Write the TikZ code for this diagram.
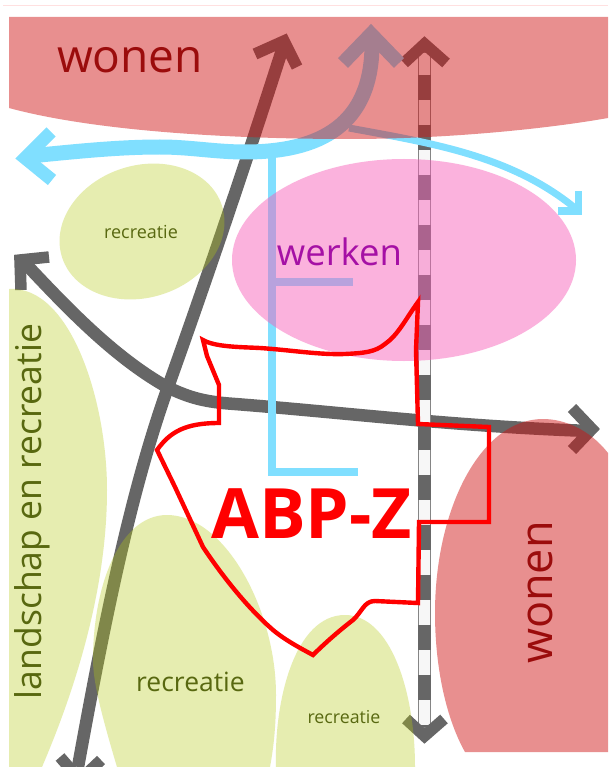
\documentclass[tikz,border=0pt]{standalone}
\usepackage{fontspec}
\setmainfont{Open Sans}
\definecolor{road}{RGB}{102,102,102}
\definecolor{cyanline}{RGB}{128,223,255}
\definecolor{wonenfill}{RGB}{208,17,17}
\definecolor{greenfill}{RGB}{180,201,18}
\definecolor{pinkfill}{RGB}{247,96,186}
\definecolor{wonentext}{RGB}{155,12,12}
\definecolor{greentext}{RGB}{88,104,16}
\definecolor{werkentext}{RGB}{165,16,165}
\tikzset{
 roadline/.style={draw=road,line width=12.5pt},
 chev/.style={draw=road,line width=11.5pt,miter limit=10},
 cyanthick/.style={draw=cyanline,line width=15pt},
 cyanthin/.style={draw=cyanline,line width=7pt},
 cyanl/.style={draw=cyanline,line width=8pt},
 wonenarea/.style={fill=wonenfill,fill opacity=.47},
 greenarea/.style={fill=greenfill,fill opacity=.333},
 pinkarea/.style={fill=pinkfill,fill opacity=.477},
 label/.style={inner sep=0pt,outer sep=0pt},
 redline/.style={draw=red,line width=4.4pt,line join=miter}
}
\begin{document}
\begin{tikzpicture}[x=1pt,y=-1pt]
\useasboundingbox (0,0) rectangle (608,767);
\clip (0,0) rectangle (608,767);
\fill[white] (0,0) rectangle (608,767);
\draw[red!12,line width=1pt] (3,6) -- (608,6);
% lines under the translucent areas
\draw[roadline] (284,44) .. controls (250,150) and (210,270) .. (168,387) .. controls (135,480) and (110,590) .. (78,767);
\draw[chev] (255,54) -- (284,41) -- (297,67);
\draw[chev] (60,757) -- (80,780) -- (101,760);
\draw[roadline] (22,260) .. controls (60,300) and (110,355) .. (167,387) .. controls (190,398) and (205,402) .. (235,404) .. controls (350,413) and (450,426) .. (590,431);
\draw[chev] (49,257) -- (20,260) -- (21,290);
\draw[chev] (572,408) -- (592,429) -- (572,450);
% striped road
\draw[fill=white!97!black,draw=road!80,line width=1pt] (418.5,53) rectangle (430.5,727);
\draw[draw=road,line width=13pt,dash pattern=on 25pt off 25pt,dash phase=28pt] (424.5,53) -- (424.5,727);
\draw[chev] (404,63) -- (424.5,44) -- (446,63);
\draw[chev] (406,719) -- (424.5,736) -- (444,719);
% cyan
\draw[cyanl,line cap=butt] (272,155) -- (272,472) -- (358,472);
\draw[cyanl] (272,282) -- (353,282);
\draw[cyanthick] (30,156) .. controls (80,151) and (120,147) .. (160,147) .. controls (190,147) and (215,152) .. (245,152) .. controls (320,152) and (372,125) .. (372,44);
\draw[draw=cyanline,line width=14pt,miter limit=10] (343,63) -- (371,34) -- (399,63);
\draw[draw=cyanline,line width=13pt,miter limit=10] (51,132) -- (25,158) -- (52,180);
\draw[cyanthin] (349,128) .. controls (430,143) and (510,155) .. (575,208);
\draw[draw=cyanline,line width=7pt] (558,211) -- (578,211) -- (578,191);
% translucent areas
\path[greenarea] (9,289) .. controls (70,285) and (107,400) .. (107,490) .. controls (107,590) and (75,690) .. (42,767) -- (9,767) -- cycle;
\path[greenarea] (117,767) .. controls (100,710) and (93,680) .. (93,660) .. controls (93,585) and (120,515) .. (167,515) .. controls (225,515) and (276,610) .. (276,695) .. controls (276,725) and (274,745) .. (270,767) -- cycle;
\path[greenarea] (276,767) .. controls (274,700) and (295,615) .. (345,615) .. controls (390,615) and (415,690) .. (415,767) -- cycle;
\path[greenarea,rotate around={18:(142,231.5)}] (142,231.5) ellipse [x radius=84,y radius=66];
\path[pinkarea] (404,260) ellipse [x radius=172,y radius=101];
\path[wonenarea] (9,17) -- (608,17) -- (608,118) .. controls (540,130) and (440,139) .. (350,139) .. controls (220,139) and (90,130) .. (9,108) -- cycle;
\path[wonenarea] (608,453) .. controls (590,430) and (565,419) .. (543,419) .. controls (480,419) and (435,510) .. (435,613) .. controls (435,670) and (447,720) .. (465,752) -- (608,752) -- cycle;
% red outline
\draw[redline] (418,302) .. controls (405,320) and (398,335) .. (385,344) .. controls (375,352) and (365,353) .. (345,354) .. controls (320,355) and (290,350) .. (260,348) .. controls (240,347) and (215,347) .. (203,340) -- (207,356) -- (219,385) -- (219,423) .. controls (185,423) and (170,432) .. (157,450) -- (175,487) -- (203,547) .. controls (225,580) and (250,610) .. (273,630) .. controls (285,640) and (300,648) .. (313,655) .. controls (325,643) and (340,630) .. (353,620) .. controls (362,612) and (364,601) .. (375,601) -- (418,603) -- (419,522) -- (489,522) -- (489,427) -- (418,424) -- (416,350) -- cycle;
% text
\node[label,text=wonentext,font=\fontsize{46}{46}\selectfont] (wonentop) at (130,60.5) {wonen};
\node[label,text=werkentext,font=\fontsize{36.5}{36.5}\selectfont] (werken) at (339.5,252) {werken};
\node[label,text=greentext,font=\fontsize{18}{18}\selectfont] (rec1) at (141,231.5) {recreatie};
\node[label,text=greentext,font=\fontsize{26.5}{26.5}\selectfont] (rec2) at (190.5,682) {recreatie};
\node[label,text=greentext,font=\fontsize{17.8}{17.8}\selectfont] (rec3) at (344,717) {recreatie};
\node[label,text=greentext,rotate=90,font=\fontsize{35.5}{35.5}\selectfont] (land) at (32,511.5) {landschap en recreatie};
\node[label,text=wonentext,rotate=90,font=\fontsize{45}{45}\selectfont] (wonenright) at (540.5,592.5) {wonen};
\node[label,text=red,font=\bfseries\fontsize{69.5}{69.5}\selectfont] (abp) at (311.5,514) {ABP-Z};
\end{tikzpicture}
\end{document}
